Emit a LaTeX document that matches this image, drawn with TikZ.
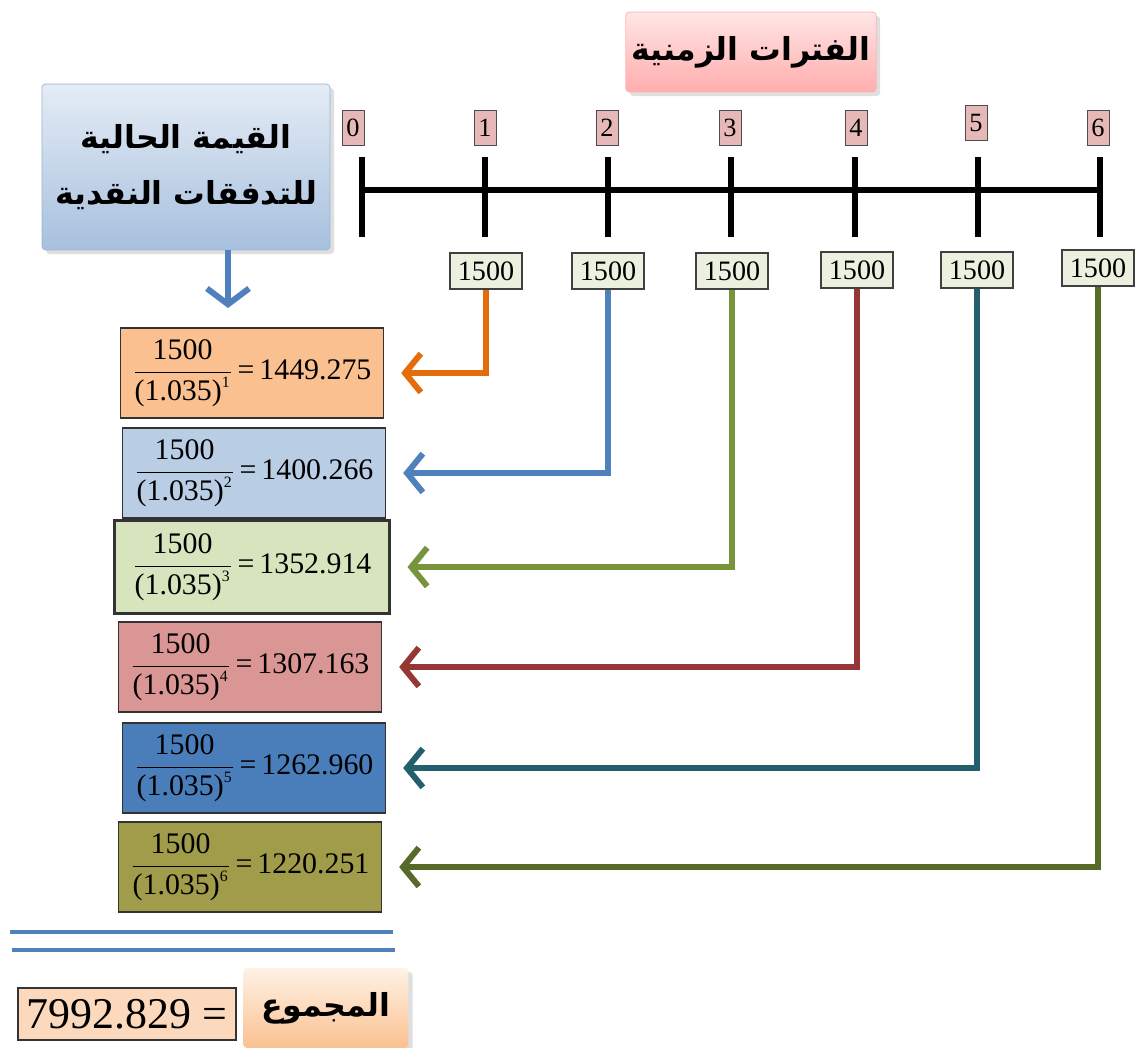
\documentclass[tikz,border=0pt]{standalone}
\usepackage{fontspec}
\setmainfont{Liberation Serif}
\newfontfamily\arabicfont[Script=Arabic]{DejaVu Sans}
\TeXXeTstate=1
\usetikzlibrary{arrows.meta,shadows}

\definecolor{perfill}{HTML}{E6B9B8}
\definecolor{amtfill}{HTML}{EBF1DE}
\definecolor{fillA}{HTML}{FAC090}
\definecolor{fillB}{HTML}{B9CDE5}
\definecolor{fillC}{HTML}{D7E4BD}
\definecolor{fillD}{HTML}{DA9694}
\definecolor{fillE}{HTML}{4A7EBB}
\definecolor{fillF}{HTML}{A09C4A}
\definecolor{lineA}{HTML}{E46C0A}
\definecolor{lineB}{HTML}{4F81BD}
\definecolor{lineC}{HTML}{77933C}
\definecolor{lineD}{HTML}{953735}
\definecolor{lineE}{HTML}{245F6E}
\definecolor{lineF}{HTML}{566B28}

\newcommand{\pvfrac}[2]{$\displaystyle\frac{\mbox{1500}}{\mbox{(1.035)}^{\mbox{\fontsize{9}{9}\selectfont #1}}}$\,=\,#2}

\begin{document}
\begin{tikzpicture}[x=0.02cm, y=-0.02cm,
          per/.style={draw=black!70, fill=perfill, minimum width=0.44cm, minimum height=0.7cm, inner sep=1pt, font=\fontsize{15}{15}\selectfont},
          amt/.style={draw=black!75, fill=amtfill, semithick, minimum width=1.44cm, minimum height=0.72cm, inner sep=1pt, font=\fontsize{16}{16}\selectfont},
          pv/.style={draw=black!80, thick, minimum width=5.26cm, minimum height=1.8cm, inner sep=2pt, font=\fontsize{17}{20}\selectfont},
          flow/.style={line width=3.4pt, -{Straight Barb[length=9pt,width=22pt]}, shorten >=0.34cm},
          axis/.style={line width=3.4pt},
          head/.style={rounded corners=2pt, drop shadow={opacity=0.25}, align=center, font=\arabicfont\bfseries\fontsize{18}{32}\selectfont},
          sumline/.style={draw=lineB, line width=2.6pt}]
  \useasboundingbox (0,0) rectangle (1136,1048);

  % headings
  \node[head, draw=red!30, top color=red!10, bottom color=red!32, minimum width=4.58cm, minimum height=1.6cm] (per) at (751,52) {\beginR الفترات الزمنية\endR};
  \node[head, draw=lineB!60, top color=lineB!15, bottom color=lineB!50, minimum width=5.76cm, minimum height=3.32cm] (pvt) at (186,167)
    {\beginR القيمة الحالية\endR\\\beginR للتدفقات النقدية\endR};
  \coordinate (down) at (228,308);
  \draw[line width=3.4pt, draw=lineB, -{Straight Barb[length=9pt,width=24pt]}] (pvt.south -| down) -- (down);

  % time line
  \draw[axis] (362,190) -- (1100,190);
  \draw[axis] (362,157) -- (362,237);
  \draw[axis] (485,157) -- (485,237);
  \draw[axis] (608,157) -- (608,237);
  \draw[axis] (731,157) -- (731,237);
  \draw[axis] (855,157) -- (855,237);
  \draw[axis] (978,157) -- (978,237);
  \draw[axis] (1100,157) -- (1100,237);

  \node[per] (p0) at (353,128) {0};
  \node[per] (p1) at (485,128) {1};
  \node[per] (p2) at (607,128) {2};
  \node[per] (p3) at (730,128) {3};
  \node[per] (p4) at (856,128) {4};
  \node[per] (p5) at (976,123) {5};
  \node[per] (p6) at (1098,128) {6};

  \node[amt] (a1) at (486,271) {1500};
  \node[amt] (a2) at (608,271) {1500};
  \node[amt] (a3) at (732,271) {1500};
  \node[amt] (a4) at (857,270) {1500};
  \node[amt] (a5) at (977,270) {1500};
  \node[amt] (a6) at (1098,268) {1500};

  % present values
  \node[pv, fill=fillA] (f1) at (252,373) {\pvfrac{1}{1449.275}};
  \node[pv, fill=fillB] (f2) at (254,473) {\pvfrac{2}{1400.266}};
  \node[pv, fill=fillC, very thick, minimum width=5.5cm, minimum height=1.86cm] (f3) at (252,567) {\pvfrac{3}{1352.914}};
  \node[pv, fill=fillD] (f4) at (250,667) {\pvfrac{4}{1307.163}};
  \node[pv, fill=fillE] (f5) at (254,768) {\pvfrac{5}{1262.960}};
  \node[pv, fill=fillF] (f6) at (250,867) {\pvfrac{6}{1220.251}};

  \draw[flow, draw=lineA] (a1.south) |- (f1.east);
  \draw[flow, draw=lineB] (a2.south) |- (f2.east);
  \draw[flow, draw=lineC] (a3.south) |- (f3.east);
  \draw[flow, draw=lineD] (a4.south) |- (f4.east);
  \draw[flow, draw=lineE] (a5.south) |- (f5.east);
  \draw[flow, draw=lineF] (a6.south) |- (f6.east);

  % total
  \draw[sumline] (10,932) -- (393,932);
  \draw[sumline] (12,950) -- (395,950);
  \node[draw=black!80, thick, fill=fillA!60, minimum width=4.36cm, minimum height=1.04cm, inner sep=1pt, font=\fontsize{25}{25}\selectfont] (tot) at (127,1014) {7992.829 =};
  \node[head, top color=orange!10, bottom color=fillA, minimum width=3.3cm, minimum height=1.6cm] (sum) at (326,1008) {\beginR المجموع\endR};
\end{tikzpicture}
\end{document}
